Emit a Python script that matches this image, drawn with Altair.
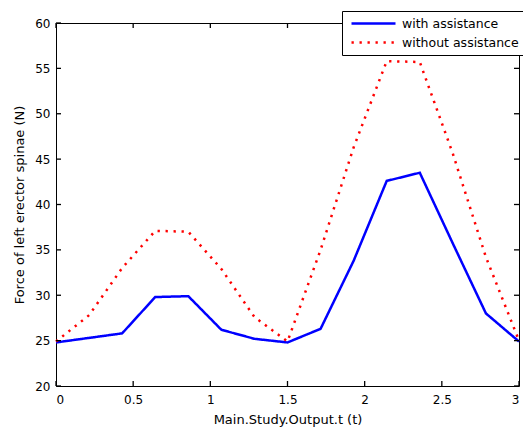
import altair as alt
import pandas as pd

# ---- data ----
t_values = [0.0, 0.2143, 0.4286, 0.6429, 0.8571, 1.0714, 1.2857, 1.5,
            1.7143, 1.9286, 2.1429, 2.3571, 2.5714, 2.7857, 3.0]
with_assistance = [24.8, 25.3, 25.8, 29.8, 29.9, 26.2, 25.2, 24.8,
                   26.3, 33.8, 42.6, 43.5, 35.7, 28.0, 24.9]
without_assistance = [24.9, 27.8, 33.0, 37.1, 37.0, 32.9, 27.6, 24.9,
                      35.0, 46.3, 55.8, 55.7, 45.6, 34.2, 25.0]
series_names = ["with assistance", "without assistance"]
x_ticks = [0, 0.5, 1, 1.5, 2, 2.5, 3]
y_ticks = [20, 25, 30, 35, 40, 45, 50, 55, 60]

df = pd.DataFrame({
    "t": t_values + t_values,
    "force": with_assistance + without_assistance,
    "series": [series_names[0]] * len(t_values) + [series_names[1]] * len(t_values),
})
xt_df = pd.DataFrame({"v": x_ticks})
yt_df = pd.DataFrame({"v": y_ticks})

FONT = "DejaVu Sans"
TICK = 5
W, H = 463, 363

xs = alt.Scale(domain=[0, 3], nice=False, zero=False)
ys = alt.Scale(domain=[20, 60], nice=False, zero=False)

legend_props = dict(
    title=None, orient="none", legendX=286, legendY=-12,
    fillColor="white", strokeColor="black", padding=4,
    symbolType="stroke", symbolSize=1936, symbolStrokeWidth=2.5,
    clipHeight=17, rowPadding=2, labelFont=FONT, labelFontSize=12.5,
    labelColor="black", labelOffset=5, symbolOffset=4,
)

lines = alt.Chart(df).mark_line(strokeWidth=2.5, strokeCap="butt").encode(
    x=alt.X("t:Q", scale=xs, axis=alt.Axis(
        orient="bottom", title="Main.Study.Output.t (t)", values=x_ticks, format="~g",
        ticks=False, domain=False, grid=False, labelPadding=8, titlePadding=8)),
    y=alt.Y("force:Q", scale=ys, axis=alt.Axis(
        orient="left", title="Force of left erector spinae (N)", values=y_ticks, format="~g",
        ticks=False, domain=False, grid=False, labelPadding=6, titlePadding=8)),
    color=alt.Color("series:N", scale=alt.Scale(domain=series_names, range=["#0000ff", "#ff0000"]),
                    legend=alt.Legend(**legend_props)),
    strokeDash=alt.StrokeDash("series:N", scale=alt.Scale(domain=series_names, range=[[1, 0], [2.3, 5.7]]),
                              legend=alt.Legend(**legend_props)),
    order=alt.Order("t:Q"),
)

# inward-pointing ticks on all four sides (MATLAB style)
tick_base_x = alt.Chart(xt_df).mark_rule(color="black", strokeWidth=1.3, opacity=1)
tick_base_y = alt.Chart(yt_df).mark_rule(color="black", strokeWidth=1.3, opacity=1)
ticks_bottom = tick_base_x.encode(x=alt.X("v:Q", scale=xs, axis=None),
                                  y=alt.value(H - TICK), y2=alt.value(H))
ticks_top = tick_base_x.encode(x=alt.X("v:Q", scale=xs, axis=None),
                               y=alt.value(0), y2=alt.value(TICK))
ticks_left = tick_base_y.encode(y=alt.Y("v:Q", scale=ys, axis=None),
                                x=alt.value(0), x2=alt.value(TICK))
ticks_right = tick_base_y.encode(y=alt.Y("v:Q", scale=ys, axis=None),
                                 x=alt.value(W - TICK), x2=alt.value(W))

chart = alt.layer(lines, ticks_bottom, ticks_top, ticks_left, ticks_right).resolve_axis(
    x="independent", y="independent"
).properties(
    width=W, height=H,
    autosize=alt.AutoSizeParams(type="none"),
    padding={"left": 56, "top": 23, "right": 4, "bottom": 42},
    background="white",
).configure_view(
    stroke="black", strokeWidth=1,
).configure_axis(
    labelFont=FONT, labelFontSize=12, labelColor="black",
    titleFont=FONT, titleFontSize=13, titleColor="black", titleFontWeight="normal",
    domainColor="black",
)

chart.save("out.html", embed_options={"renderer": "svg", "actions": False})
